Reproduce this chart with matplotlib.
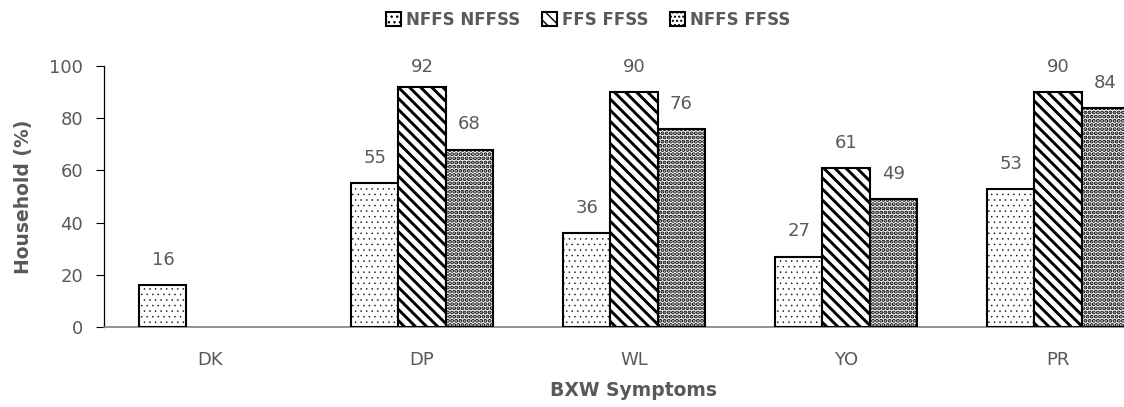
import numpy as np
import matplotlib
matplotlib.use("Agg")
import matplotlib.pyplot as plt

# Data
symptoms = ["DK", "DP", "WL", "YO", "PR"]
series_names = ["NFFS NFFSS", "FFS FFSS", "NFFS FFSS"]
nffs_nffss = [16, 55, 36, 27, 53]
ffs_ffss = [np.nan, 92, 90, 61, 90]
nffs_ffss = [np.nan, 68, 76, 49, 84]

values = [nffs_nffss, ffs_ffss, nffs_ffss]
hatches = ["...", "\\\\\\", "...."]
hatch_lw = [0.3, 2.1, 2.0]

GRAY = "#595959"
plt.rcParams["font.family"] = "DejaVu Sans"

fig = plt.figure(figsize=(11.24, 4.07), dpi=100)
ax = fig.add_axes([104 / 1124, 80 / 407, 1060 / 1124, 261 / 407])

x = np.arange(len(symptoms))
width = 0.222

for i, (vals, name) in enumerate(zip(values, series_names)):
    with plt.rc_context({"hatch.linewidth": hatch_lw[i], "hatch.color": "black"}):
        bars = ax.bar(x + (i - 1) * width, vals, width, facecolor="white",
                      edgecolor="black", linewidth=1.5, hatch=hatches[i],
                      label=name, zorder=3)
        for b in bars:
            if hasattr(b, "set_hatch_linewidth"):
                b.set_hatch_linewidth(hatch_lw[i])
    for xi, v in zip(x, vals):
        if not np.isnan(v):
            # labels sit ~25 px above the bar, but stay inside the plot top
            ax.text(xi + (i - 1) * width, min(v + 9.6, 99.6), f"{v:.0f}",
                    ha="center", va="center", fontsize=13, color=GRAY)

ax.set_xlim(-0.5, 4.5)
ax.set_ylim(0, 100)
ax.set_yticks(range(0, 101, 20))
ax.set_xticks(x)
ax.set_xticklabels(symptoms)

ax.spines["top"].set_visible(False)
ax.spines["right"].set_visible(False)
ax.spines["left"].set_color("black")
ax.spines["left"].set_linewidth(0.9)
ax.spines["bottom"].set_color("#808080")
ax.spines["bottom"].set_linewidth(1.2)

ax.tick_params(axis="y", direction="out", length=6, width=0.8, pad=9,
               labelsize=13, labelcolor=GRAY)
ax.tick_params(axis="x", length=0, pad=17, labelsize=13, labelcolor=GRAY)

ax.set_ylabel("Household (%)", fontsize=13.5, fontweight="bold", color=GRAY,
              labelpad=12)
ax.set_xlabel("BXW Symptoms", fontsize=13.5, fontweight="bold", color=GRAY,
              labelpad=9)

handles, labels = ax.get_legend_handles_labels()
leg = fig.legend(handles, labels, loc="center", bbox_to_anchor=(588 / 1124, 1 - 20 / 407),
                 ncol=3, frameon=False, handlelength=0.9, handleheight=0.9,
                 handletextpad=0.3, columnspacing=1.3,
                 prop={"size": 12, "weight": "bold"})
for t in leg.get_texts():
    t.set_color(GRAY)

fig.savefig("out.png", dpi=100)
